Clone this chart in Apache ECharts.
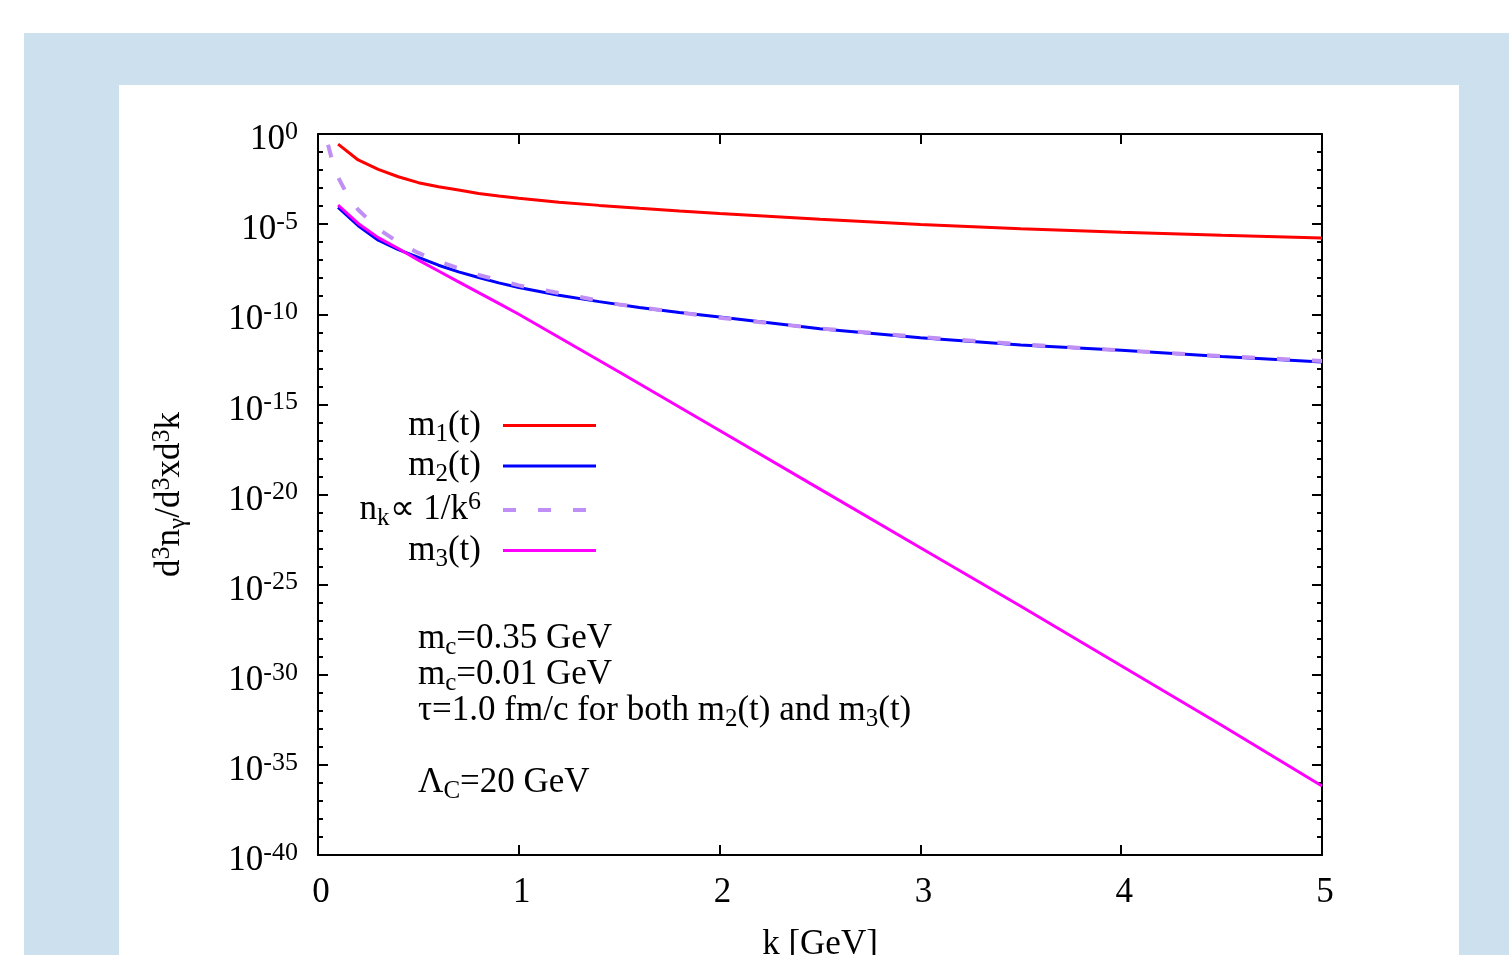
<!DOCTYPE html>
<html>
<head>
  <meta charset="utf-8">
  <title>photon spectrum</title>
  <script src="https://cdn.jsdelivr.net/npm/echarts@6/dist/echarts.min.js"></script>
  <style>
    body { margin: 0; background: #fff; }
    #bg { position: absolute; left: 24px; top: 33px; right: 0; bottom: 0; background: #cce0ee; }
    #main { position: absolute; left: 119px; top: 85px; width: 1340px; height: 870px; background: #fff; }
  </style>
</head>
<body>
  <div id="bg"></div>
  <div id="main"></div>
  <script>
    // values are log10 of d3n/d3xd3k
    var kM1 = [0.1, 0.2, 0.3, 0.4, 0.5, 0.6, 0.7, 0.8, 0.9, 1.0, 1.2, 1.4, 1.6, 1.8, 2.0, 2.5, 3.0, 3.5, 4.0, 4.5, 5.0];
    var m1Exp = [-0.56, -1.44, -1.96, -2.37, -2.70, -2.93, -3.11, -3.30, -3.44, -3.56, -3.78, -3.96, -4.12, -4.27, -4.41, -4.73, -5.02, -5.25, -5.45, -5.62, -5.77];

    var kM2 = [0.1, 0.2, 0.3, 0.4, 0.5, 0.6, 0.7, 0.8, 0.9, 1.0, 1.2, 1.4, 1.6, 1.8, 2.0, 2.5, 3.0, 3.5, 4.0, 4.5, 5.0];
    var m2Exp = [-4.07, -5.09, -5.89, -6.41, -6.85, -7.28, -7.65, -7.96, -8.26, -8.52, -8.95, -9.3, -9.62, -9.9, -10.15, -10.8, -11.3, -11.7, -12.0, -12.35, -12.65];

    var kPow = [0.05, 0.075, 0.1, 0.15, 0.2, 0.3, 0.4, 0.5, 0.6, 0.8, 1.0, 1.5, 2.0, 2.5, 3.0, 3.5, 4.0, 4.5, 5.0];
    var powExp = [-0.6, -1.65, -2.4, -3.46, -4.2, -5.26, -6.01, -6.6, -7.07, -7.82, -8.4, -9.46, -10.2, -10.79, -11.26, -11.66, -12.01, -12.32, -12.59];

    var kM3 = [0.1, 0.2, 0.3, 0.4, 0.5, 0.6, 0.7, 0.8, 0.9, 1.0, 1.5, 2.0, 2.5, 3.0, 3.5, 4.0, 4.5, 5.0];
    var m3Exp = [-3.94, -4.96, -5.75, -6.35, -7.0, -7.6, -8.2, -8.8, -9.4, -10.0, -13.2, -16.45, -19.7, -22.95, -26.2, -29.5, -32.8, -36.17];

    var seriesNames = ['m1', 'm2', 'nk', 'm3'];
    var legendLabels = [
      '{b|m}{sub|1}{b|(t)}',
      '{b|m}{sub|2}{b|(t)}',
      '{b|n}{sub|k}{b|∝ 1/k}{sup|6}',
      '{b|m}{sub|3}{b|(t)}'
    ];
    var colors = ['#ff0000', '#0000ff', '#bf8ff5', '#ff00ff'];

    var font = 'Liberation Serif';
    var rich = {
      b: { fontFamily: font, fontSize: 35, lineHeight: 42, color: '#000' },
      sub: { fontFamily: font, fontSize: 25, lineHeight: 16, verticalAlign: 'bottom', color: '#000' },
      sup: { fontFamily: font, fontSize: 26, lineHeight: 16, verticalAlign: 'top', color: '#000' }
    };

    function pairs(xs, ys) {
      return xs.map(function (x, i) { return [x, ys[i]]; });
    }

    var myChart = echarts.init(document.getElementById('main'));

    function xAx(pos) {
      return {
        type: 'value', position: pos, min: 0, max: 5, interval: 1,
        axisLine: { show: true, onZero: false, lineStyle: { color: '#000', width: 2 } },
        axisTick: { show: true, inside: true, length: 10, lineStyle: { color: '#000', width: 2 } },
        axisLabel: pos === 'bottom' ? { show: true, margin: 20, padding: [0, 0, 0, 6], color: '#000', fontFamily: font, fontSize: 35 } : { show: false },
        splitLine: { show: false }
      };
    }
    function yAx(pos) {
      return {
        type: 'value', position: pos, min: -40, max: 0, interval: 5,
        axisLine: { show: true, onZero: false, lineStyle: { color: '#000', width: 2 } },
        axisTick: { show: true, inside: true, length: 10, lineStyle: { color: '#000', width: 2 } },
        minorTick: { show: true, splitNumber: 5, length: 5, lineStyle: { color: '#000', width: 2 } },
        axisLabel: pos === 'left' ? {
          show: true, margin: 20, padding: [12, 0, 0, 0],
          formatter: function (v) { return '{b|10}{sup|' + v + '}'; },
          rich: rich
        } : { show: false },
        splitLine: { show: false }
      };
    }

    var xBottom = xAx('bottom');
    xBottom.name = 'k [GeV]';
    xBottom.nameLocation = 'middle';
    xBottom.nameGap = 72;
    xBottom.nameTextStyle = { fontFamily: font, fontSize: 35, color: '#000' };

    var yLeft = yAx('left');
    yLeft.name = '{b|d}{sup|3}{b|n}{sub|γ}{b|/d}{sup|3}{b|xd}{sup|3}{b|k}';
    yLeft.nameLocation = 'middle';
    yLeft.nameRotate = 90;
    yLeft.nameGap = 127;
    yLeft.nameTextStyle = { rich: rich };

    var data = [pairs(kM1, m1Exp), pairs(kM2, m2Exp), pairs(kPow, powExp), pairs(kM3, m3Exp)];

    var series = seriesNames.map(function (n, i) {
      return {
        name: n,
        type: 'line',
        symbol: 'none',
        smooth: false,
        lineStyle: {
          color: colors[i],
          width: i === 2 ? 4 : 3,
          type: i === 2 ? [13, 22] : 'solid'
        },
        itemStyle: { color: colors[i] },
        data: data[i]
      };
    });

    function note(text, y) {
      return {
        type: 'text', left: 299, top: y - 15,
        style: { text: text, rich: rich, fontFamily: font, fontSize: 35, fill: '#000' }
      };
    }

    var option = {
      animation: false,
      grid: { left: 199, top: 49, width: 1004, height: 721, outerBoundsMode: 'none' },
      xAxis: [xBottom, xAx('top')],
      yAxis: [yLeft, yAx('right')],
      legend: {
        orient: 'vertical',
        align: 'right',
        right: 861,
        top: 323,
        padding: 0,
        itemWidth: 93,
        itemHeight: 14,
        itemGap: 2,
        selectedMode: false,
        itemStyle: { opacity: 0 },
        lineStyle: { width: 'inherit', type: 'inherit' },
        data: seriesNames,
        formatter: function (n) { return legendLabels[seriesNames.indexOf(n)]; },
        textStyle: { rich: rich, padding: [0, 17, 0, 0] }
      },
      graphic: [
        note('{b|m}{sub|c}{b|=0.35 GeV}', 551),
        note('{b|m}{sub|c}{b|=0.01 GeV}', 587),
        note('{b|τ=1.0 fm/c for both m}{sub|2}{b|(t) and m}{sub|3}{b|(t)}', 623),
        note('{b|Λ}{sub|C}{b|=20 GeV}', 695)
      ],
      series: series
    };

    myChart.setOption(option);
  </script>
</body>
</html>
